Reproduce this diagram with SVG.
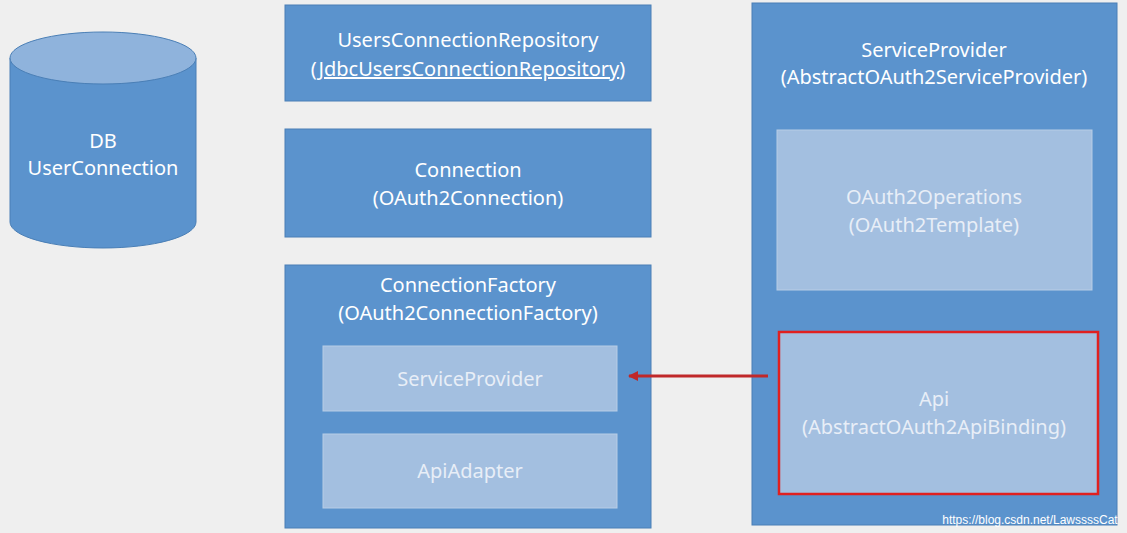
<svg xmlns="http://www.w3.org/2000/svg" width="1127" height="533" viewBox="0 0 1127 533">
<style>
.box{fill:#5b93cd;stroke:#4a7fb6;stroke-width:1}
.inner{fill:#a3bfe0;stroke:#b8cde6;stroke-width:1}
text{font-family:"Noto Sans","Liberation Sans",sans-serif;font-size:20px;fill:#ffffff;text-anchor:middle}
.lt{fill:#e8eef7}
</style>
<defs><marker id="ah" markerWidth="10" markerHeight="10" refX="9" refY="5" orient="auto" markerUnits="userSpaceOnUse"><path d="M0,0 L10,5 L0,10 z" fill="#c0282a"/></marker></defs>
<rect width="1127" height="533" fill="#efefef"/>
<g id="db">
<path d="M10,58 L10,222 A93,26 0 0 0 196,222 L196,58 Z" class="box"/>
<ellipse cx="103" cy="58" rx="93" ry="26" fill="#8fb3dc" stroke="#4a7fb6"/>
<text x="103" y="148">DB</text><text x="103" y="175">UserConnection</text>
</g>
<g id="repo"><rect x="285" y="5" width="366" height="96" class="box"/>
<text x="468" y="47">UsersConnectionRepository</text><text x="468" y="76">(<tspan text-decoration="underline">JdbcUsersConnectionRepository</tspan>)</text></g>
<g id="conn"><rect x="285" y="129" width="366" height="108" class="box"/>
<text x="468" y="177">Connection</text><text x="468" y="205">(OAuth2Connection)</text></g>
<g id="factory"><rect x="285" y="265" width="366" height="263" class="box"/>
<text x="468" y="292">ConnectionFactory</text><text x="468" y="320">(OAuth2ConnectionFactory)</text></g>
<g id="sp-inner"><rect x="323" y="346" width="294" height="65" class="inner"/><text x="470" y="386" class="lt">ServiceProvider</text></g>
<g id="apiadapter"><rect x="323" y="434" width="294" height="74" class="inner"/><text x="470" y="478" class="lt">ApiAdapter</text></g>
<g id="sp"><rect x="752" y="3" width="365" height="522" class="box"/>
<text x="934" y="57">ServiceProvider</text><text x="934" y="84">(AbstractOAuth2ServiceProvider)</text></g>
<g id="ops"><rect x="777" y="130" width="315" height="160" class="inner"/>
<text x="934" y="204" class="lt">OAuth2Operations</text><text x="934" y="232" class="lt">(OAuth2Template)</text></g>
<g id="api"><rect x="779" y="332" width="319" height="162" class="inner" stroke="#e02020" style="stroke:#e02020;stroke-width:2.5"/>
<text x="934" y="406" class="lt">Api</text><text x="934" y="434" class="lt">(AbstractOAuth2ApiBinding)</text></g>
<g id="connectors"><line x1="768" y1="376" x2="629" y2="376" stroke="#c0282a" stroke-width="3" marker-end="url(#ah)"/></g>
<text x="1030" y="524" style="font-size:12px;fill:#ffffff;font-family:'Liberation Sans',sans-serif">https://blog.csdn.net/LawssssCat</text>
</svg>
